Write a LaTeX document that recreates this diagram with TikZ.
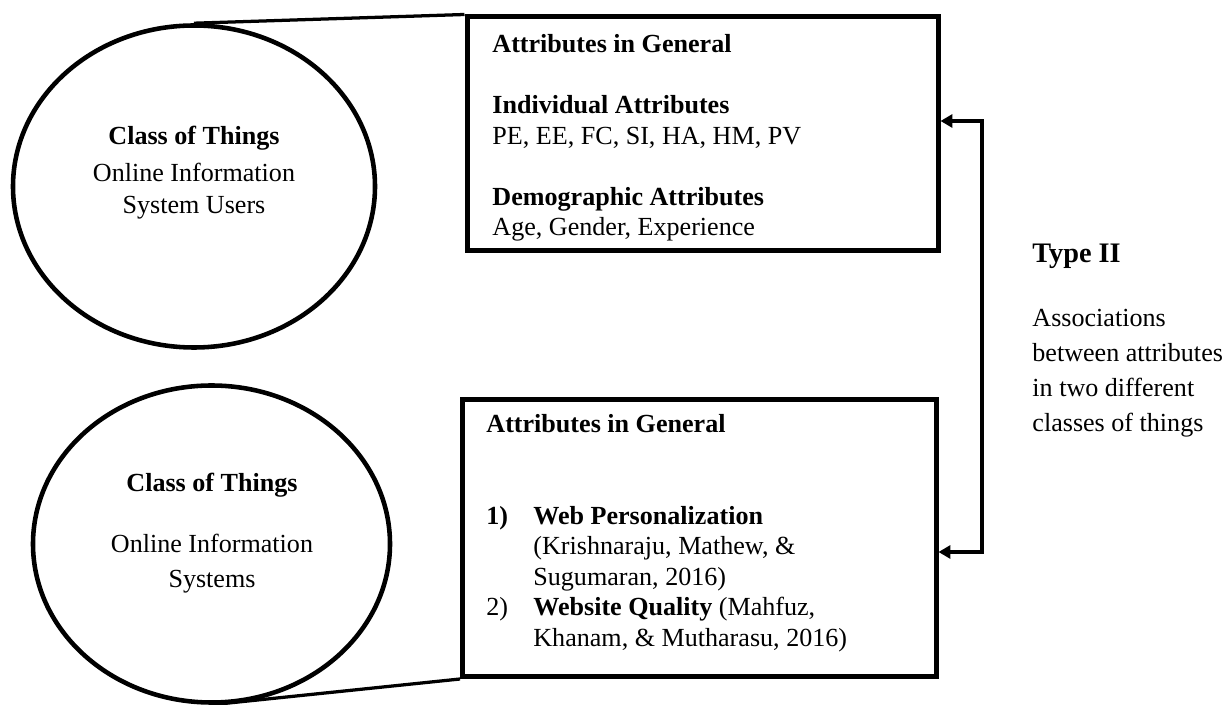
\documentclass[tikz,border=0pt]{standalone}
\usepackage{fontspec}
\setmainfont{Liberation Serif}
\usetikzlibrary{shapes.geometric,arrows.meta}
\begin{document}
\begin{tikzpicture}[x=0.46pt,y=-0.46pt,
  shell/.style={ellipse, draw, line width=2.1pt, inner sep=0pt},
  panel/.style={rectangle, draw, line width=2.3pt, inner sep=0pt},
  tie/.style={line width=1.5pt},
  link/.style={line width=1.7pt},
  tip/.tip={Triangle[length=5.5pt,width=6pt]},
  txt/.style={inner sep=0pt, anchor=base, font=\fontsize{12pt}{14pt}\selectfont}]
\useasboundingbox (0,0) rectangle (1228,705);

% the two classes of things
\node[shell, minimum width={362*0.46pt}, minimum height={322*0.46pt}] (e1) at (194,186.5) {};
\node[shell, minimum width={357*0.46pt}, minimum height={317*0.46pt}] (e2) at (211.5,544) {};

% attribute panels
\node[panel, minimum width={471*0.46pt}, minimum height={234*0.46pt}] (b1) at (702.5,134) {};
\node[panel, minimum width={473.5*0.46pt}, minimum height={277*0.46pt}] (b2) at (699.25,538) {};

% ellipse captions
\node[txt] (e1t) at (194,145) {\bfseries Class of Things};
\node[txt, font=\fontsize{12pt}{14.95pt}\selectfont] (e1b) at (194,181.5)
  {\begin{tabular}[t]{@{}c@{}}Online Information\\System Users\end{tabular}};
\node[txt] (e2t) at (212,491.7) {\bfseries Class of Things};
\node[txt, font=\fontsize{12pt}{15.8pt}\selectfont] (e2b) at (212,552.7)
  {\begin{tabular}[t]{@{}c@{}}Online Information\\Systems\end{tabular}};

% panel contents
\node[txt, anchor=base west] (b1t) at (492,53)
  {\begin{tabular}[t]{@{}l@{}}
   \textbf{Attributes in General}\\
   \\
   \textbf{Individual Attributes}\\
   PE, EE, FC, SI, HA, HM, PV\\
   \\
   \textbf{Demographic Attributes}\\
   Age, Gender, Experience
   \end{tabular}};
\node[txt, anchor=base west] (b2t) at (486,433)
  {\begin{tabular}[t]{@{}p{21.6pt}@{}l@{}}
   \multicolumn{2}{@{}l@{}}{\textbf{Attributes in General}}\\
   \\
   \\
   \textbf{1)} & \textbf{Web Personalization}\\
   & (Krishnaraju, Mathew, \&\\
   & Sugumaran, 2016)\\
   2) & \textbf{Website Quality} (Mahfuz,\\
   & Khanam, \& Mutharasu, 2016)
   \end{tabular}};

% association label
\node[txt, anchor=base west, font={\fontsize{13pt}{16pt}\selectfont\bfseries}] (ty) at (1032,263) {Type II};
\node[txt, anchor=base west, font=\fontsize{12pt}{16.1pt}\selectfont] (tyd) at (1032,327)
  {\begin{tabular}[t]{@{}l@{}}Associations\\between attributes\\in two different\\classes of things\end{tabular}};

% connectors
\draw[tie] (e1.north) -- (b1.north west);
\draw[tie] (e2.south) -- (b2.south west);
\coordinate (k1) at (982,121);
\coordinate (k2) at (982,552);
\draw[link, tip-tip] (b1.east |- k1) -- (k1) -- (k2) -- (b2.east |- k2);
\end{tikzpicture}
\end{document}
